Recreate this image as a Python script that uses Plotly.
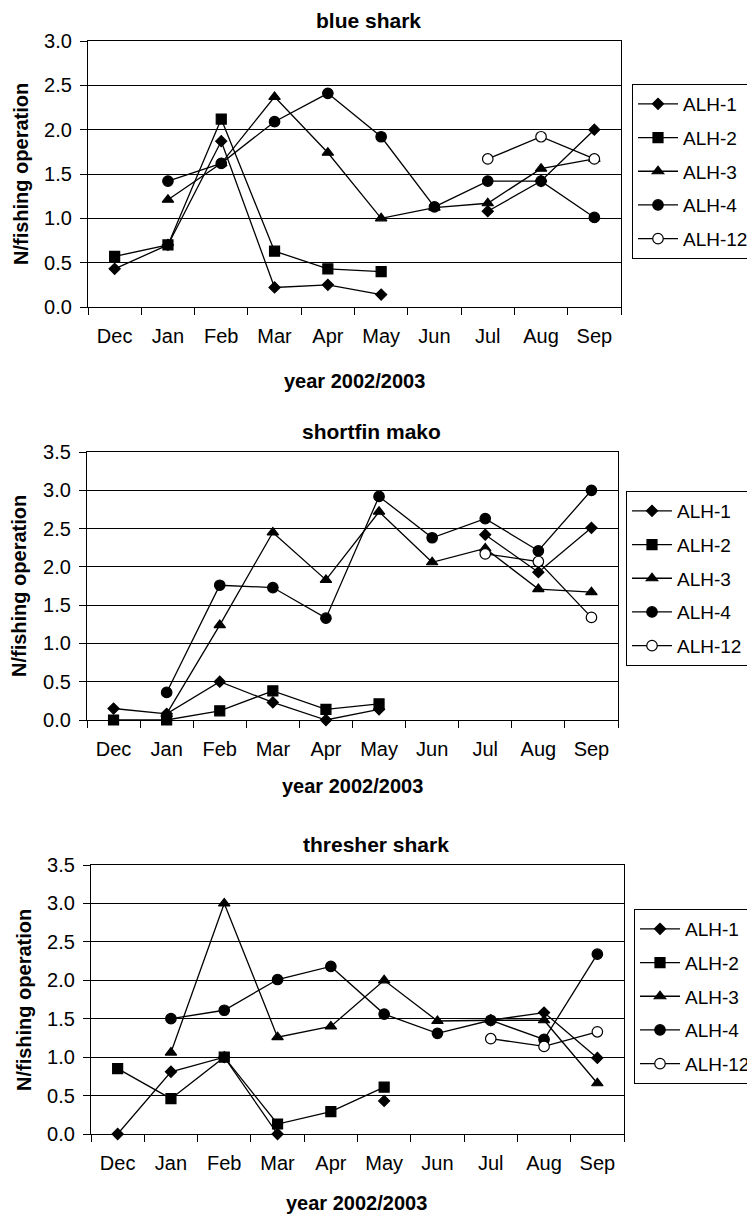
import plotly.graph_objects as go

months = ["Dec", "Jan", "Feb", "Mar", "Apr", "May", "Jun", "Jul", "Aug", "Sep"]
series_names = ["ALH-1", "ALH-2", "ALH-3", "ALH-4", "ALH-12"]

blue_alh1 = [0.43, 0.70, 1.87, 0.22, 0.25, 0.14, None, 1.08, 1.42, 2.00]
blue_alh2 = [0.57, 0.70, 2.12, 0.63, 0.43, 0.40, None, None, None, None]
blue_alh3 = [None, 1.21, 1.62, 2.37, 1.74, 1.00, 1.12, 1.17, 1.56, 1.67]
blue_alh4 = [None, 1.42, 1.62, 2.09, 2.41, 1.92, 1.13, 1.42, 1.42, 1.01]
blue_alh12 = [None, None, None, None, None, None, None, 1.67, 1.92, 1.67]

mako_alh1 = [0.15, 0.08, 0.50, 0.23, 0.00, 0.14, None, 2.42, 1.93, 2.51]
mako_alh2 = [0.00, 0.00, 0.12, 0.38, 0.14, 0.21, None, None, None, None]
mako_alh3 = [None, 0.08, 1.24, 2.45, 1.83, 2.72, 2.06, 2.24, 1.71, 1.67]
mako_alh4 = [None, 0.36, 1.76, 1.73, 1.33, 2.92, 2.38, 2.63, 2.21, 3.00]
mako_alh12 = [None, None, None, None, None, None, None, 2.17, 2.07, 1.34]

thr_alh1 = [0.00, 0.81, 1.00, 0.00, None, 0.43, None, 1.48, 1.58, 0.99]
thr_alh2 = [0.85, 0.46, 1.00, 0.13, 0.29, 0.61, None, None, None, None]
thr_alh3 = [None, 1.06, 3.00, 1.26, 1.40, 2.00, 1.47, 1.48, 1.48, 0.66]
thr_alh4 = [None, 1.50, 1.61, 2.01, 2.18, 1.56, 1.31, 1.48, 1.23, 2.34]
thr_alh12 = [None, None, None, None, None, None, None, 1.24, 1.14, 1.33]

panel_titles = ["blue shark", "shortfin mako", "thresher shark"]
y_maxima = [3.0, 3.5, 3.5]
x_title = "year 2002/2003"
y_title = "N/fishing operation"

panels = [
    [blue_alh1, blue_alh2, blue_alh3, blue_alh4, blue_alh12],
    [mako_alh1, mako_alh2, mako_alh3, mako_alh4, mako_alh12],
    [thr_alh1, thr_alh2, thr_alh3, thr_alh4, thr_alh12],
]

# the page body has an 8px margin; the figure is placed at (8, 8)
OFF = 8
W, H = 755 - OFF, 1216 - OFF
FONT = "Liberation Sans, Arial, sans-serif"


def px(x):
    return (x - OFF) / W


def py(y):
    return 1 - (y - OFF) / H


symbols = ["diamond", "square", "triangle-up", "circle", "circle"]
sizes = [8.5, 10, 10, 10.5, 10.5]
fills = ["black", "black", "black", "black", "white"]

# page-pixel layout of each panel: (left, right, top, bottom)
boxes = [(88, 621, 41, 307), (87, 618, 452, 720), (91, 624, 865, 1134)]
legend_pos = [(632, 84), (626, 491), (634, 909)]
# title tops (page px)
title_pos = [(368, 8), (371, 419), (376, 832)]
xtitle_pos = [(354, 381), (352, 786), (356, 1203)]
ytitle_pos = [(21, 174), (19, 586), (24, 1000)]

fig = go.Figure()
layout = dict(
    width=W, height=H,
    margin=dict(l=0, r=0, t=0, b=0, autoexpand=False),
    paper_bgcolor="white", plot_bgcolor="white",
    font=dict(family=FONT, size=20, color="black"),
    annotations=[],
)

for p, (data, ymax) in enumerate(zip(panels, y_maxima)):
    sfx = "" if p == 0 else str(p + 1)
    lname = "legend" if p == 0 else f"legend{p + 1}"
    for i, (name, vals) in enumerate(zip(series_names, data)):
        fig.add_trace(go.Scatter(
            x=months, y=vals, name=name, mode="lines+markers",
            xaxis="x" + sfx, yaxis="y" + sfx,
            legend=lname, legendgroup=f"p{p}s{i}",
            connectgaps=False,
            line=dict(color="black", width=1.3),
            marker=dict(symbol=symbols[i], size=sizes[i], color=fills[i],
                        line=dict(color="black", width=1.2)),
            cliponaxis=False,
        ))
    l, r, t, b = boxes[p]
    layout["xaxis" + sfx] = dict(
        domain=[px(l), px(r)], anchor="y" + sfx,
        type="category", categoryorder="array", categoryarray=months,
        range=[-0.5, len(months) - 0.5],
        tickson="boundaries", ticks="outside", ticklen=7, tickwidth=1, tickcolor="black",
        showline=True, linecolor="black", linewidth=1.3, mirror=True,
        showgrid=False, zeroline=False, ticklabelstandoff=11,
        tickfont=dict(size=20),
    )
    layout["yaxis" + sfx] = dict(
        domain=[py(b), py(t)], anchor="x" + sfx,
        range=[0, ymax], dtick=0.5, tick0=0, tickformat=".1f",
        ticks="outside", ticklen=7, tickwidth=1, tickcolor="black",
        showline=True, linecolor="black", linewidth=1.3, mirror=True,
        showgrid=True, gridcolor="black", gridwidth=1, zeroline=False,
        ticklabelstandoff=4, tickfont=dict(size=20),
    )
    lx, ly = legend_pos[p]
    layout[lname] = dict(
        x=px(lx), y=py(ly), xanchor="left", yanchor="top",
        bgcolor="white", bordercolor="black", borderwidth=1,
        font=dict(size=19), itemwidth=40, tracegroupgap=6,
        traceorder="grouped",
    )
    tx, ty = title_pos[p]
    layout["annotations"].append(dict(
        text="<b>" + panel_titles[p] + "</b>", x=px(tx), y=py(ty),
        xref="paper", yref="paper", showarrow=False, xanchor="center", yanchor="top",
        borderpad=0, font=dict(size=21)))
    ax, ay = xtitle_pos[p]
    layout["annotations"].append(dict(
        text="<b>" + x_title + "</b>", x=px(ax), y=py(ay),
        xref="paper", yref="paper", showarrow=False, xanchor="center", yanchor="middle",
        font=dict(size=20)))
    yx, yy = ytitle_pos[p]
    layout["annotations"].append(dict(
        text="<b>" + y_title + "</b>", x=px(yx), y=py(yy),
        xref="paper", yref="paper", showarrow=False, xanchor="center", yanchor="middle",
        textangle=-90, font=dict(size=20)))

fig.update_layout(**layout)
fig.write_html("out.html")
